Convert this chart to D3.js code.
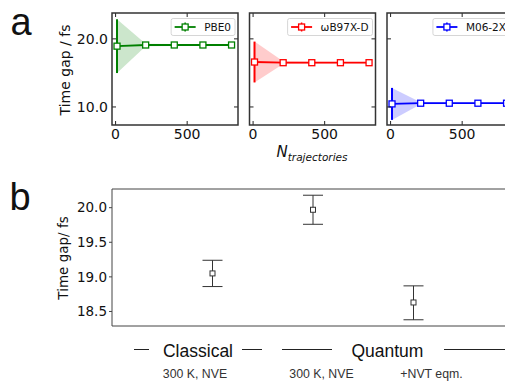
<!DOCTYPE html>
<html>
<head>
<meta charset="utf-8">
<script src="https://cdn.jsdelivr.net/npm/d3@7"></script>
<style>
  body { margin: 0; background: #fff; }
  svg { display: block; }
  text { fill: #111; }
</style>
</head>
<body>
<svg id="chart" width="505" height="381"></svg>
<script>
// panel a: convergence with number of trajectories
var nTraj = [10, 210, 410, 610, 810];
var functionals = ['PBE0', 'ωB97X-D', 'M06-2X'];
var pbe0Gap = [18.93, 19.1, 19.1, 19.1, 19.1];
var pbe0Err = [3.95, 0.2, 0.15, 0.12, 0.1];
var wb97Gap = [16.6, 16.5, 16.5, 16.5, 16.5];
var wb97Err = [3.0, 0.2, 0.15, 0.12, 0.1];
var m06Gap = [10.45, 10.55, 10.55, 10.55, 10.55];
var m06Err = [2.35, 0.15, 0.12, 0.1, 0.1];
var aXTicks = [0, 500];
var aYTicks = [10, 20];

// panel b: time gap per simulation setup
var setups = ['Classical NVE', 'Quantum NVE', 'Quantum NVT'];
var bGap = [19.05, 19.97, 18.63];
var bLow = [18.86, 19.76, 18.38];
var bHigh = [19.24, 20.18, 18.87];
var bYTicks = [18.5, 19.0, 19.5, 20.0];
var groupNames = ['Classical', 'Quantum'];
var subLabels = ['300 K, NVE', '300 K, NVE', '+NVT eqm.'];

var svg = d3.select('#chart');
var sans = 'DejaVu Sans, sans-serif';
var helv = 'Liberation Sans, Arial, sans-serif';

var seriesGap = [pbe0Gap, wb97Gap, m06Gap];
var seriesErr = [pbe0Err, wb97Err, m06Err];
var colors = ['#008000', '#ff0000', '#0000ff'];
var fills = ['rgba(0,128,0,0.2)', 'rgba(255,0,0,0.2)', 'rgba(0,0,255,0.2)'];

var aTop = 13, aBottom = 125, aW = 126;
var aLefts = [112, 249.5, 387];

var ya = d3.scaleLinear().domain([7.35, 23.8]).range([aBottom, aTop]);

functionals.forEach(function(name, k) {
    var left = aLefts[k];
    var xa = d3.scaleLinear().domain([-25, 855]).range([left, left + aW]);
    var g = svg.append('g').attr('class', 'panel-a');
    var gap = seriesGap[k];
    var err = seriesErr[k];
    var pts = nTraj.map(function(n, i) { return {n: n, v: gap[i], e: err[i]}; });

    // shaded band
    var area = d3.area()
        .x(function(d) { return xa(d.n); })
        .y0(function(d) { return ya(d.v - d.e); })
        .y1(function(d) { return ya(d.v + d.e); });
    g.append('path').attr('d', area(pts)).attr('fill', fills[k]);

    // error bars
    g.selectAll('line.err').data(pts).enter().append('line')
        .attr('class', 'err')
        .attr('x1', function(d) { return xa(d.n); })
        .attr('x2', function(d) { return xa(d.n); })
        .attr('y1', function(d) { return ya(d.v - d.e); })
        .attr('y2', function(d) { return ya(d.v + d.e); })
        .attr('stroke', colors[k]).attr('stroke-width', 2);

    var line = d3.line()
        .x(function(d) { return xa(d.n); })
        .y(function(d) { return ya(d.v); });
    g.append('path').attr('d', line(pts))
        .attr('fill', 'none').attr('stroke', colors[k]).attr('stroke-width', 1.8);

    g.selectAll('rect.mk').data(pts).enter().append('rect')
        .attr('class', 'mk')
        .attr('x', function(d) { return xa(d.n) - 3; })
        .attr('y', function(d) { return ya(d.v) - 3; })
        .attr('width', 6).attr('height', 6)
        .attr('fill', '#fff').attr('stroke', colors[k]).attr('stroke-width', 1.3);

    // inward ticks on all four sides
    var tk = g.append('g').attr('stroke', '#222').attr('stroke-width', 1);
    aXTicks.forEach(function(t) {
        tk.append('line').attr('x1', xa(t)).attr('x2', xa(t)).attr('y1', aBottom).attr('y2', aBottom - 4);
        tk.append('line').attr('x1', xa(t)).attr('x2', xa(t)).attr('y1', aTop).attr('y2', aTop + 4);
        g.append('text').attr('x', xa(t)).attr('y', 138.5)
            .attr('text-anchor', 'middle').style('font', '14px ' + sans).text(t);
    });
    aYTicks.forEach(function(t) {
        tk.append('line').attr('x1', left).attr('x2', left + 4).attr('y1', ya(t)).attr('y2', ya(t));
        tk.append('line').attr('x1', left + aW).attr('x2', left + aW - 4).attr('y1', ya(t)).attr('y2', ya(t));
        if(k === 0) {
            g.append('text').attr('x', left - 4).attr('y', ya(t) + 5)
                .attr('text-anchor', 'end').style('font', '14px ' + sans).text(d3.format('.1f')(t));
        }
    });

    g.append('rect').attr('x', left).attr('y', aTop).attr('width', aW).attr('height', aBottom - aTop)
        .attr('fill', 'none').attr('stroke', '#333').attr('stroke-width', 1.5);

    // legend
    var lg = g.append('g');
    var box = lg.append('rect').attr('y', 18.5).attr('height', 17).attr('rx', 2)
        .attr('fill', '#fff').attr('fill-opacity', 0.85).attr('stroke', '#ccc').attr('stroke-width', 0.8);
    var txt = lg.append('text').attr('y', 30.5).style('font', '10.5px ' + sans).text(name);
    var tw = txt.node().getComputedTextLength();
    var bx = left + aW - 3 - (33 + tw + 4);
    box.attr('x', bx).attr('width', 33 + tw + 4);
    txt.attr('x', bx + 33);
    lg.append('line').attr('x1', bx + 3.5).attr('x2', bx + 24.5).attr('y1', 27).attr('y2', 27)
        .attr('stroke', colors[k]).attr('stroke-width', 1.8);
    lg.append('line').attr('x1', bx + 14).attr('x2', bx + 14).attr('y1', 22.5).attr('y2', 31.5)
        .attr('stroke', colors[k]).attr('stroke-width', 1.5);
    lg.append('rect').attr('x', bx + 11).attr('y', 24).attr('width', 6).attr('height', 6)
        .attr('fill', '#fff').attr('stroke', colors[k]).attr('stroke-width', 1.3);
});

svg.append('text').attr('transform', 'translate(70,70) rotate(-90)')
    .attr('text-anchor', 'middle').style('font', '14px ' + sans).text('Time gap / fs');

var nlab = svg.append('text').attr('x', 312).attr('y', 157).attr('text-anchor', 'middle');
nlab.append('tspan').style('font', 'italic 15px ' + sans).text('N');
nlab.append('tspan').attr('dy', 3.5).style('font', 'italic 10.5px ' + sans).text('trajectories');

// panel b
var bTop = 189, bBottom = 326, bLeft = 112;
var xb = d3.scaleLinear().domain([-1, 3]).range([bLeft, bLeft + 402]);
var yb = d3.scaleLinear().domain([18.29, 20.27]).range([bBottom, bTop]);

var gb = svg.append('g').attr('class', 'panel-b');
gb.append('path')
    .attr('d', 'M' + 510 + ',' + bTop + 'H' + bLeft + 'V' + bBottom + 'H' + 510)
    .attr('fill', 'none').attr('stroke', '#444').attr('stroke-width', 1);

bYTicks.forEach(function(t) {
    gb.append('line').attr('x1', bLeft - 3).attr('x2', bLeft).attr('y1', yb(t)).attr('y2', yb(t))
        .attr('stroke', '#444').attr('stroke-width', 1);
    gb.append('text').attr('x', 107).attr('y', yb(t) + 4.8).attr('text-anchor', 'end')
        .style('font', '13.5px ' + sans).text(d3.format('.1f')(t));
});

var bd = setups.map(function(s, i) { return {i: i, v: bGap[i], lo: bLow[i], hi: bHigh[i]}; });
var eb = gb.selectAll('g.eb').data(bd).enter().append('g').attr('class', 'eb')
    .attr('stroke', '#333').attr('stroke-width', 1);
eb.append('line')
    .attr('x1', function(d) { return xb(d.i); }).attr('x2', function(d) { return xb(d.i); })
    .attr('y1', function(d) { return yb(d.lo); }).attr('y2', function(d) { return yb(d.hi); });
eb.append('line')
    .attr('x1', function(d) { return xb(d.i) - 10; }).attr('x2', function(d) { return xb(d.i) + 10; })
    .attr('y1', function(d) { return yb(d.lo); }).attr('y2', function(d) { return yb(d.lo); });
eb.append('line')
    .attr('x1', function(d) { return xb(d.i) - 10; }).attr('x2', function(d) { return xb(d.i) + 10; })
    .attr('y1', function(d) { return yb(d.hi); }).attr('y2', function(d) { return yb(d.hi); });
eb.append('rect')
    .attr('x', function(d) { return xb(d.i) - 2.5; }).attr('y', function(d) { return yb(d.v) - 2.5; })
    .attr('width', 5).attr('height', 5).attr('fill', '#fff');

svg.append('text').attr('transform', 'translate(68,258) rotate(-90)')
    .attr('text-anchor', 'middle').style('font', '13.5px ' + sans).text('Time gap/ fs');

// group labels under panel b
var groupCenters = [xb(0) - 14.5, xb(1.74)];
var groupLines = [[[134, 149], [242, 262]], [[282, 332], [444, 510]]];
groupNames.forEach(function(name, i) {
    svg.append('text').attr('x', groupCenters[i]).attr('y', 357).attr('text-anchor', 'middle')
        .style('font', '17.5px ' + helv).text(name);
    groupLines[i].forEach(function(s) {
        svg.append('line').attr('x1', s[0]).attr('x2', s[1]).attr('y1', 349.5).attr('y2', 349.5)
            .attr('stroke', '#222').attr('stroke-width', 1);
    });
});
var subOffsets = [-17.5, 8.5, 18];
subLabels.forEach(function(s, i) {
    svg.append('text').attr('x', xb(i) + subOffsets[i]).attr('y', 378).attr('text-anchor', 'middle')
        .style('font', '12.3px ' + helv).style('fill', '#333').text(s);
});

// panel letters
svg.append('text').attr('x', 10.5).attr('y', 34.5).style('font', '38px ' + helv).text('a');
svg.append('text').attr('x', 9.5).attr('y', 210).style('font', '38px ' + helv).text('b');
</script>
</body>
</html>
